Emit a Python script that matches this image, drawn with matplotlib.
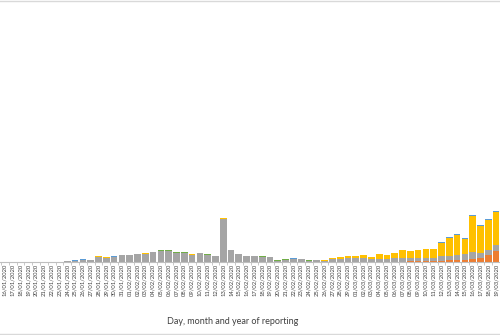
import pandas as pd
import matplotlib.pyplot as plt
from matplotlib.lines import Line2D

plt.rcParams['font.family'] = ['Lato', 'DejaVu Sans']

# casos diarios por continente, 16/01/2020 - 19/03/2020
fechas = pd.date_range('2020-01-16', '2020-03-19').strftime('%d/%m/%Y')

america = [0] * 40 + [
    0, 0, 35, 35, 70, 70, 70, 70, 100, 100,
    140, 170, 210, 210, 280, 350, 450, 590, 690, 790,
    1040, 1280, 2420, 3800]

asia = [
    0, 0, 30, 140, 30, 140, 140, 100, 270, 450,
    780, 760, 1800, 1400, 1820, 2240, 2240, 2860, 2850, 3550,
    3880, 3700, 3180, 3180, 2400, 2940, 2390, 2170, 14750, 4010,
    2660, 2170, 1910, 1800, 1590, 320, 770, 1020, 890, 320,
    540, 480, 1040, 1100, 1240, 1170, 1210, 970, 1100, 1040,
    1100, 1210, 1140, 1100, 1210, 1140, 1620, 1620, 1730, 1970,
    2310, 1970, 1730, 1970]

europa = [
    0, 0, 0, 0, 0, 0, 0, 0, 0, 0,
    0, 0, 270, 250, 0, 0, 0, 0, 250, 0,
    0, 0, 0, 0, 260, 0, 0, 0, 260, 0,
    0, 0, 260, 0, 0, 0, 0, 0, 0, 0,
    250, 310, 310, 590, 860, 930, 1040, 690, 1450, 1280,
    1860, 2660, 2450, 2730, 3140, 2900, 4550, 5930, 6760, 5040,
    12390, 9250, 10210, 11560]

oceania = [
    0, 0, 0, 0, 0, 0, 0, 0, 0, 240,
    250, 0, 0, 0, 250, 0, 0, 0, 0, 0,
    0, 0, 0, 0, 0, 0, 0, 0, 0, 0,
    0, 0, 0, 0, 0, 0, 0, 250, 250, 0,
    0, 0, 0, 0, 0, 0, 0, 0, 0, 0,
    0, 0, 0, 0, 0, 0, 280, 280, 280, 280,
    280, 280, 280, 280]

otros = [0] * 20 + [
    270, 270, 270, 270, 0, 270, 270, 0, 0, 270,
    0, 0, 0, 270, 270, 270, 270, 0, 0, 270] + [0] * 24

series = [
    (america, '#ED7D31'),
    (asia, '#A5A5A5'),
    (europa, '#FFC000'),
    (oceania, '#5B9BD5'),
    (otros, '#70AD47'),
]

fig = plt.figure(figsize=(5, 3.35), dpi=100)
ax = fig.add_axes([0, 73 / 335, 1, 262 / 335])

x = range(len(fechas))
base = [0] * len(fechas)
for valores, color in series:
    ax.bar(x, valores, width=0.86, bottom=base, color=color, linewidth=0)
    base = [b + v for b, v in zip(base, valores)]

ax.set_xlim(-0.636, 62.98)
ax.set_ylim(0, 90000)

for lado in ['left', 'top', 'right']:
    ax.spines[lado].set_visible(False)
ax.spines['bottom'].set_color('#bfbfbf')
ax.spines['bottom'].set_linewidth(0.8)

ax.set_yticks([])
ax.set_xticks(list(x))
ax.set_xticklabels(fechas, rotation=90, fontsize=4.2, color='#404040')
ax.set_xticks([i - 0.5 for i in range(len(fechas) + 1)], minor=True)
ax.tick_params(axis='x', which='major', length=0, pad=1.5)
ax.tick_params(axis='x', which='minor', length=2.5, color='#bfbfbf', width=0.6)

fig.text(233 / 500, 1 - 322 / 335, 'Day, month and year of reporting',
         ha='center', va='center', fontsize=6.5, color='#404040')

# marco del gráfico
fig.add_artist(Line2D([0, 1], [1 - 0.6 / 335] * 2, color='#d9d9d9', lw=1))
fig.add_artist(Line2D([0, 1], [1 - 334 / 335] * 2, color='#d9d9d9', lw=1))

fig.savefig('out.png', dpi=100)
